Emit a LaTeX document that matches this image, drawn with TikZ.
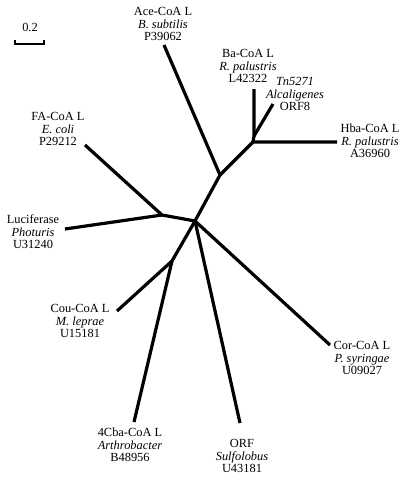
\documentclass[tikz,border=0pt]{standalone}
\usepackage{fontspec}
\setmainfont{Liberation Serif}
\begin{document}
\begin{tikzpicture}[x=1pt,y=-1pt,
  branch/.style={line width=3.2pt,line join=round},
  lbl/.style={align=center,inner sep=0pt,font=\fontsize{12.4}{12.6}\selectfont},
  scalebar/.style={line width=2pt}]
\useasboundingbox (0,0) rectangle (406,477);
% internal nodes
\coordinate (D) at (195,221);
\coordinate (A) at (220,175);
\coordinate (B) at (253,142);
\coordinate (C) at (254,136);
\coordinate (E) at (162,215);
\coordinate (F) at (172,261);
% tips
\coordinate (acet) at (164,45);
\coordinate (bat) at (254,89);
\coordinate (tnt) at (273,104);
\coordinate (hbat) at (337,142);
\coordinate (fat) at (85,145);
\coordinate (luct) at (65,229);
\coordinate (cout) at (117,311);
\coordinate (cbat) at (134,422);
\coordinate (orft) at (240,423);
\coordinate (cort) at (330,345);
% branches
\draw[branch] (acet) -- (A) -- (D);
\draw[branch] (A) -- (B) -- (hbat);
\draw[branch] (B) -- (C) -- (bat);
\draw[branch] (C) -- (tnt);
\draw[branch] (fat) -- (E) -- (D);
\draw[branch] (luct) -- (E);
\draw[branch] (D) -- (F) -- (cout);
\draw[branch] (F) -- (cbat);
\draw[branch] (D) -- (orft);
\draw[branch] (D) -- (cort);
% labels
\node[lbl] (ace) at (163,24) {Ace-CoA L\\\textit{B. subtilis}\\P39062};
\node[lbl] (ba) at (248,66) {Ba-CoA L\\\textit{R. palustris}\\L42322};
\node[lbl] (tn) at (295,94) {\textit{Tn5271}\\\textit{Alcaligenes}\\ORF8};
\node[lbl] (hba) at (370,141) {Hba-CoA L\\\textit{R. palustris}\\A36960};
\node[lbl] (fa) at (58,129) {FA-CoA L\\\textit{E. coli}\\P29212};
\node[lbl] (luc) at (33,232) {Luciferase\\\textit{Photuris}\\U31240};
\node[lbl] (cou) at (80,321) {Cou-CoA L\\\textit{M. leprae}\\U15181};
\node[lbl] (cor) at (362,358) {Cor-CoA L\\\textit{P. syringae}\\U09027};
\node[lbl] (cba) at (130,445) {4Cba-CoA L\\\textit{Arthrobacter}\\B48956};
\node[lbl] (orf) at (242,456) {ORF\\\textit{Sulfolobus}\\U43181};
% scale bar
\node[lbl] (sc) at (30,27) {0.2};
\coordinate (s1) at (15,40);
\coordinate (s2) at (15,44);
\coordinate (s3) at (44,44);
\coordinate (s4) at (44,40);
\draw[scalebar] (s1) -- (s2) -- (s3) -- (s4);
\end{tikzpicture}
\end{document}
